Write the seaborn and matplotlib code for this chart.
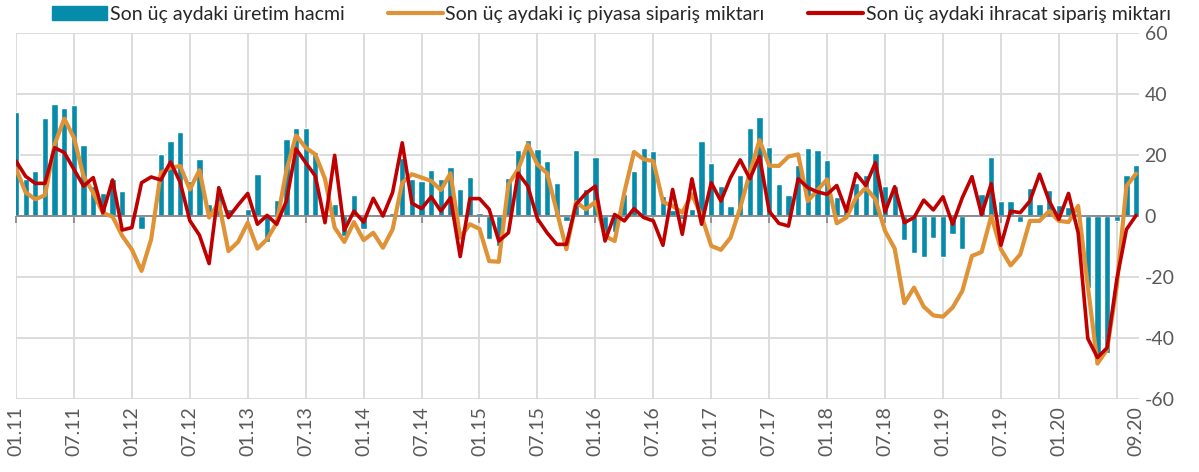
import pandas as pd
import seaborn as sns
import matplotlib.pyplot as plt
from matplotlib.patches import Patch
from matplotlib.lines import Line2D
from matplotlib.transforms import blended_transform_factory

# monthly series, 01.2011 - 09.2020
months = pd.date_range('2011-01-01', '2020-09-01', freq='MS').strftime('%m.%y').tolist()

uretim = [34, 12, 14.8, 32, 36.6, 35.3, 36.3, 23.2, 10, 7.4, 12, 8.2,
          0, -4.3, 0, 20.2, 24.6, 27.6, 11.5, 18.8, 4, 9.3, 2.4, 0,
          2.4, 13.9, -8.5, 5.2, 25.4, 28.7, 28.7, 21, 1, 4, -6.6, 7,
          -4.3, 0.8, 0, 1, 19, 12.2, 11.5, 15.1, 12, 16.2, 8.7, 12.8,
          0.9, -7.4, -9.8, 12.6, 21.6, 24.8, 21.9, 18, 10.7, -1.6, 21.5, 8.7,
          19.5, -7.1, -5.2, 7.1, 14.8, 22.2, 21.3, 6.6, 2, -1.1, 2.2, 24.6,
          17.3, 10, 3.3, 13.4, 28.7, 32.5, 22.6, 10.4, 6.9, 16.6, 22.2, 21.5,
          18.4, 6.3, 2, 10.9, 13.3, 20.8, 9.8, 10, -7.9, -12.2, -13.3, -7.1,
          -13.3, -5.8, -10.7, 0.5, 7.1, 19.5, 4.9, 4.9, -2, 9.3, 4, 8.5,
          3.6, 3, 1, -23.5, -47, -44.8, -1.6, 13.4, 16.6]

ic_piyasa = [15.5, 7.7, 5.5, 6.8, 23.5, 31.9, 25.7, 13, 7.6, 1, -0.2, -6.5,
             -11, -18, -7.6, 14.2, 15.8, 16.4, 8.7, 15, -0.5, 4.4, -11.5, -8.5,
             -2.2, -10.7, -7.6, -2.2, 14.8, 26.4, 22.4, 20.2, 12.2, -3.8, -8.5, -2,
             -7.9, -5.5, -10.4, -4.4, 10.9, 13.7, 12.6, 11.5, 8.5, 14, -7.1, -2.7,
             -4.2, -14.8, -15, 10.4, 15.3, 23.5, 16.9, 14, 1.6, -10.9, 4.6, 2.2,
             4.6, -6.6, -8.2, 7.7, 21, 18.6, 18, 4.6, 3.3, 1.1, 7.1, 0,
             -9.8, -11.1, -7.1, 2.7, 14.2, 24.9, 16.5, 16.4, 19.5, 20.2, 4.9, 8.5,
             12, -2.4, -0.5, 6, 9.3, 5.5, -4.9, -10.7, -28.6, -23.5, -29.7, -32.6,
             -33, -30, -24.6, -13.1, -11.8, 0, -10.9, -16.2, -12.6, -1.6, -1.6, 1.6,
             -1.6, -2, 3.3, -23, -48.4, -43.7, -23, 9.8, 13.9]

ihracat = [18, 13, 10.7, 10.7, 22.4, 20.8, 15.3, 9.8, 12.6, 1.1, 11.8, -4.6,
           -3.8, 10.9, 12.8, 11.8, 17.7, 11.1, -1.5, -6.3, -15.6, 9.3, -0.5, 3.6,
           7.4, -2.7, 0.2, -2.7, 4.9, 22, 17.5, 13.1, -2.2, 19.9, -4.7, 1.6,
           -2, 5.8, 0, 7.7, 24, 4.2, 2.4, 6.3, 1.6, 6, -13.3, 5.7,
           5.7, 2.2, -8.2, -5.5, 14, 9.8, -0.9, -5.5, -9.3, -9.3, 3.8, 7.4,
           9.8, -8.2, 0.5, -1.6, 2.4, -0.5, -1.6, -9.6, 8.7, -6, 12.2, -2.7,
           10.9, 4.9, 12.6, 18.4, 12.2, 19.6, 1.6, -2.4, -3.3, 12.2, 9.3, 7.9,
           7.1, 10, 1.6, 13.9, 10, 17.5, 1.3, 9.6, -2.2, -0.5, 5.2, 2,
           6.3, -2.7, 6, 12.9, 0.5, 10.6, -9.6, 1.6, 1.1, 4.9, 13.7, 4.9,
           -1.1, 7.4, -5.5, -40.2, -46.4, -43.2, -20.8, -4.4, 0.2]

tick_labels = ['01.11', '07.11', '01.12', '07.12', '01.13', '07.13', '01.14',
               '07.14', '01.15', '07.15', '01.16', '07.16', '01.17', '07.17',
               '01.18', '07.18', '01.19', '07.19', '01.20', '09.20']
grid_months = ['01.11', '07.11', '01.12', '07.12', '01.13', '07.13', '01.14',
               '07.14', '01.15', '07.15', '01.16', '07.16', '01.17', '07.17',
               '01.18', '07.18', '01.19', '07.19', '01.20', '07.20']

labels = ['Son üç aydaki üretim hacmi',
          'Son üç aydaki iç piyasa sipariş miktarı',
          'Son üç aydaki ihracat sipariş miktarı']

teal = '#078BAA'
orange = '#DF9236'
red = '#C00000'
gray_txt = '#595959'

df = pd.DataFrame({'ay': months, 'uretim': uretim,
                   'ic': ic_piyasa, 'ihracat': ihracat})
df['pos'] = range(len(df))

sns.set_theme(style='white')
plt.rcParams['font.family'] = ['Lato', 'DejaVu Sans']
plt.rcParams['axes.unicode_minus'] = False

fig = plt.figure(figsize=(11.99, 4.72), dpi=100)
ax = fig.add_axes([16 / 1199, 73 / 472, 1123 / 1199, 366 / 472])

sns.barplot(data=df, x='pos', y='uretim', color=teal, saturation=1,
            width=0.65, ax=ax, zorder=2)
sns.lineplot(data=df, x='pos', y='ic', color=orange, lw=3.0, ax=ax, zorder=4)
sns.lineplot(data=df, x='pos', y='ihracat', color=red, lw=2.6, ax=ax, zorder=5)

ax.set_xlim(0, 116.3)
ax.set_ylim(-60, 60)
ax.set_xlabel('')
ax.set_ylabel('')

# grid every 6 months, zero axis line with ticks
grid_pos = [months.index(m) for m in grid_months]
ax.set_xticks(grid_pos)
ax.set_xticklabels([''] * len(grid_pos))
ax.set_yticks(range(-60, 61, 20))
ax.grid(True, color='#D9D9D9', lw=1.3, zorder=0)
ax.set_axisbelow(True)
for s in ['top', 'left', 'right']:
    ax.spines[s].set_visible(False)
ax.spines['bottom'].set_position(('data', 0))
ax.spines['bottom'].set_visible(False)
ax.axhline(0, color='#8C8C8C', lw=1.4, zorder=3)
ax.tick_params(axis='x', direction='out', length=5, width=1.3,
               color='#8C8C8C', bottom=True)
ax.yaxis.tick_right()
ax.tick_params(axis='y', length=0, pad=4, labelsize=14, labelcolor=gray_txt)

trans = blended_transform_factory(ax.transData, ax.transAxes)
for lab in tick_labels:
    ax.text(months.index(lab), -0.02, lab, transform=trans, rotation=90,
            ha='center', va='top', fontsize=14, color=gray_txt)

handles = [Patch(color=teal),
           Line2D([], [], color=orange, lw=3.0),
           Line2D([], [], color=red, lw=3.0)]
fig.legend(handles, labels, loc='upper center', bbox_to_anchor=(0.51, 1.025),
           ncol=3, frameon=False, fontsize=14, handlelength=2.8,
           handleheight=0.7, handletextpad=0.15, columnspacing=2.25,
           labelcolor='#262626')

plt.savefig('out.png', dpi=100)
